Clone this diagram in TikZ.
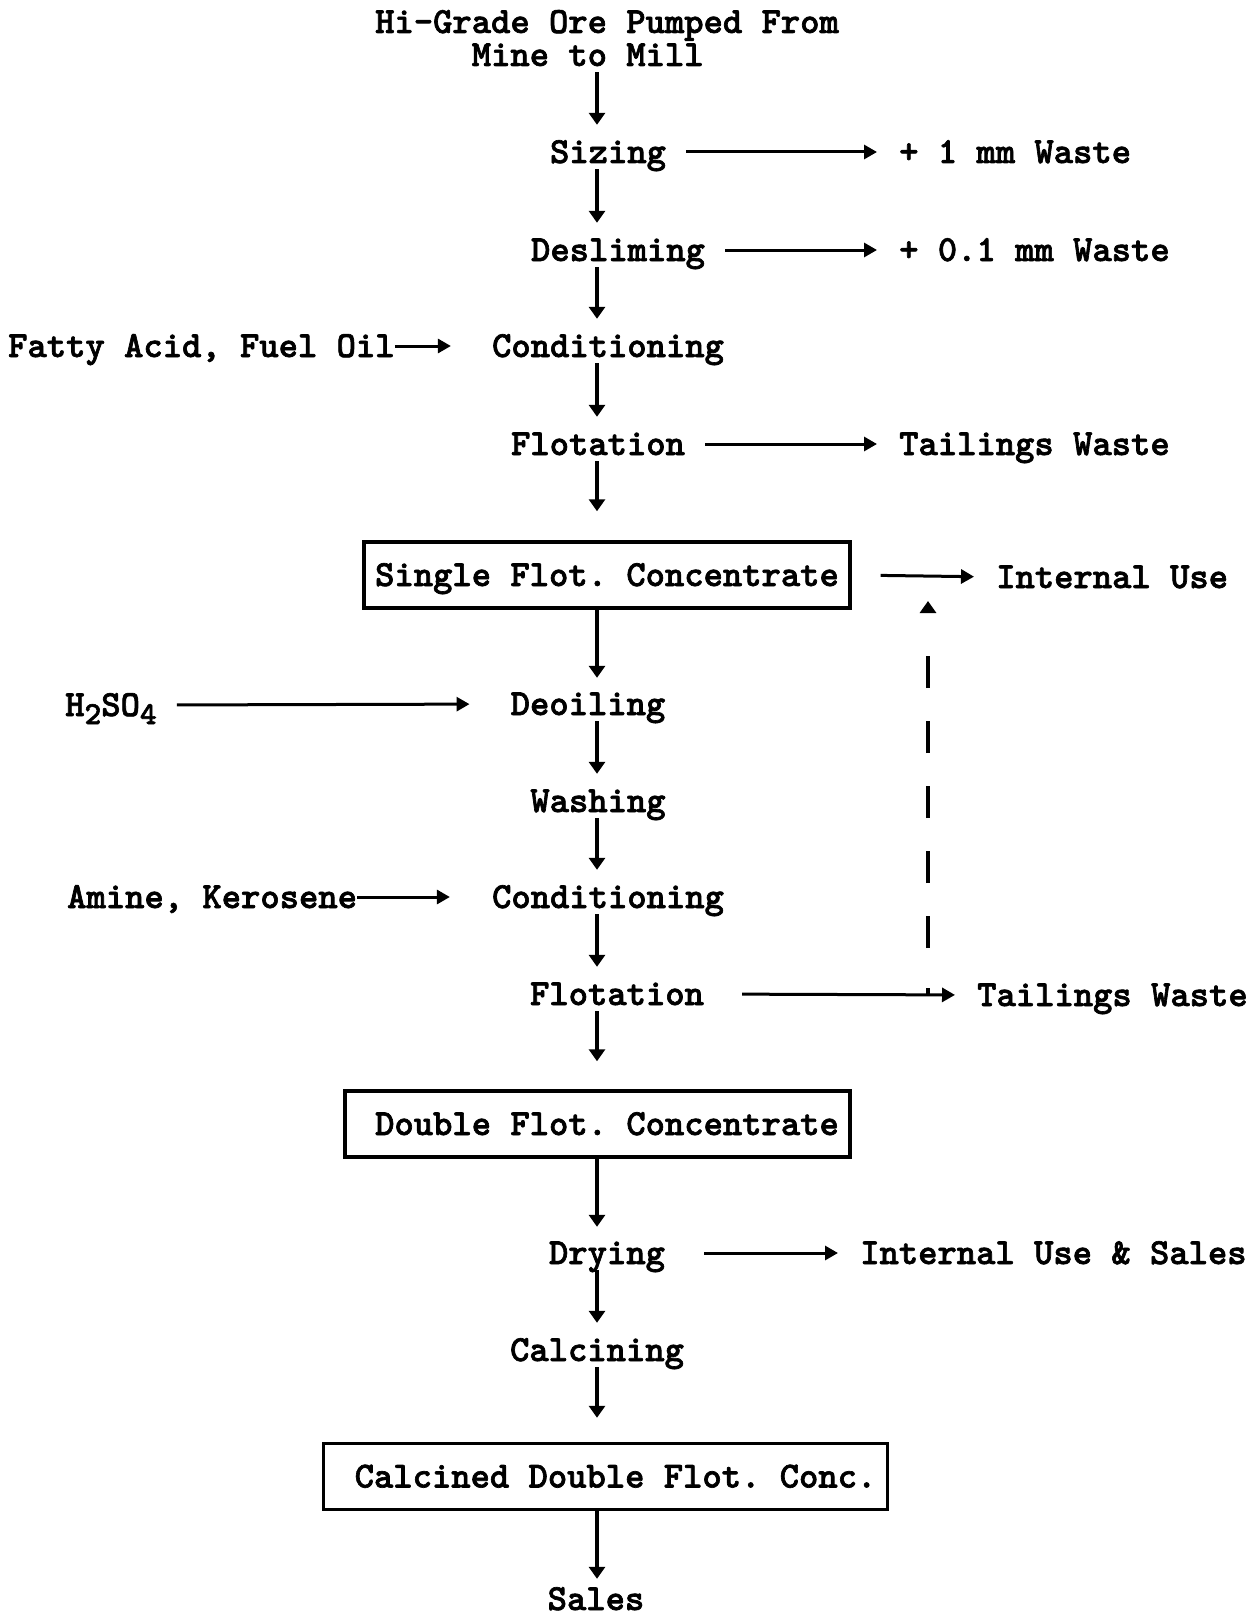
\documentclass[tikz,border=0pt]{standalone}
\usepackage{fontspec}
\newfontfamily\typeface{lmmonolt10-bold.otf}[FakeBold=1.8]
\usetikzlibrary{arrows.meta}
\newcommand{\flowfont}{\fontsize{36.8}{33}\selectfont\typeface\frenchspacing}
\tikzstyle{stage} = [font=\flowfont, inner sep=0pt, text height=22pt, text depth=0pt]
\tikzstyle{side} = [stage, anchor=west]
\tikzstyle{product} = [stage, draw, line width=3.5pt, inner xsep=11pt, inner ysep=22pt]
\tikzstyle{flow} = [line width=3.5pt, -{Triangle[length=0.1pt,width=0.1pt,sep=9pt]Triangle[length=12pt,width=16pt]}, shorten <=6pt, shorten >=16pt]
\tikzstyle{feed} = [line width=3pt, -{Triangle[length=13pt,width=14pt]}, shorten <=20pt, shorten >=22pt]
\tikzstyle{recycle} = [line width=3.5pt, dash pattern=on 7pt off 40pt on 32pt off 33pt on 32pt off 33pt on 32pt off 33pt on 32pt off 33pt on 32pt off 400pt, -{Triangle[length=12pt,width=16pt]}]

\begin{document}
\begin{tikzpicture}[x=1pt,y=-1pt]
    \useasboundingbox (0,0) rectangle (1258,1616);
    \coordinate (spine) at (597,0);

    % main line
    \node[stage, align=left, text height=] (ore) at (607,38) {Hi-Grade Ore Pumped From\\\hspace*{2.625em}Mine to Mill};
    \node[stage] (sizing) at (608,152) {Sizing};
    \node[stage] (deslime) at (618,250) {Desliming};
    \node[stage] (cond1) at (608,346) {Conditioning};
    \node[stage] (flot1) at (598,444) {Flotation};
    \node[product] (single) at (607,575) {Single Flot. Concentrate};
    \node[stage] (deoil) at (588,704) {Deoiling};
    \node[stage] (wash) at (598,801) {Washing};
    \node[stage] (cond2) at (608,897) {Conditioning};
    \node[stage] (flot2) at (617,994) {Flotation};
    \node[product] (double) at (597.5,1124) {\hspace*{19pt}Double Flot. Concentrate};
    \node[stage] (dry) at (607,1253) {Drying};
    \node[stage] (calc) at (597,1350) {Calcining};
    \node[product] (calcined) at (605.5,1476.5) {\hspace*{20pt}Calcined Double Flot. Conc.};
    \node[stage] (sales) at (596,1599) {Sales};

    % side streams
    \node[side] (waste1) at (899,152) {+ 1 mm Waste};
    \node[side] (waste2) at (899,250) {+ 0.1 mm Waste};
    \node[side] (fatty) at (8,346) {Fatty Acid, Fuel Oil};
    \node[side] (tail1) at (899,444) {Tailings Waste};
    \node[side] (use1) at (996,577) {Internal Use};
    \node[side] (acid) at (65,705) {H\raisebox{-8pt}{\fontsize{32}{32}\selectfont 2}SO\raisebox{-8pt}{\fontsize{32}{32}\selectfont 4}};
    \node[side] (amine) at (67,897) {Amine, Kerosene};
    \node[side] (tail2) at (977,995) {Tailings Waste};
    \node[side] (use2) at (860,1253) {Internal Use \& Sales};

    \draw[flow, shorten <=6pt] (ore.south -| spine) -- (sizing.north -| spine);
    \draw[flow] (sizing.south -| spine) -- (deslime.north -| spine);
    \draw[flow] (deslime.south -| spine) -- (cond1.north -| spine);
    \draw[flow] (cond1.south -| spine) -- (flot1.north -| spine);
    \draw[flow, shorten >=29pt] (flot1.south -| spine) -- (single.north -| spine);
    \draw[flow, shorten <=0pt, shorten >=15pt] (single.south -| spine) -- (deoil.north -| spine);
    \draw[flow] (deoil.south -| spine) -- (wash.north -| spine);
    \draw[flow] (wash.south -| spine) -- (cond2.north -| spine);
    \draw[flow] (cond2.south -| spine) -- (flot2.north -| spine);
    \draw[flow, shorten >=28pt] (flot2.south -| spine) -- (double.north -| spine);
    \draw[flow, shorten <=0pt, shorten >=15pt] (double.south -| spine) -- (dry.north -| spine);
    \draw[flow] (dry.south -| spine) -- (calc.north -| spine);
    \draw[flow, shorten >=24pt] (calc.south -| spine) -- (calcined.north -| spine);
    \draw[flow, shorten <=0pt, shorten >=9pt] (calcined.south -| spine) -- (sales.north -| spine);

    \draw[feed] (sizing.east) -- (waste1.west);
    \draw[feed] (deslime.east) -- (waste2.west);
    \draw[feed, shorten <=0pt, shorten >=41pt] (fatty.east) -- (cond1.west);
    \draw[feed] (flot1.east) -- (tail1.west);
    \draw[feed, shorten <=29pt] (single.east) -- (use1.west);
    \draw[feed, shorten >=41pt] (acid.east) -- (deoil.west);
    \draw[feed, shorten <=0pt, shorten >=42pt] (amine.east) -- (cond2.west);
    \draw[feed, shorten <=38pt] (flot2.east) -- (tail2.west);
    \draw[feed, shorten <=39pt] (dry.east) -- (use2.west);

    % dashed return to internal use
    \coordinate (tee) at (928,995);
    \draw[recycle, shorten >=24pt] (tee) -- (tee |- use1);
\end{tikzpicture}
\end{document}
